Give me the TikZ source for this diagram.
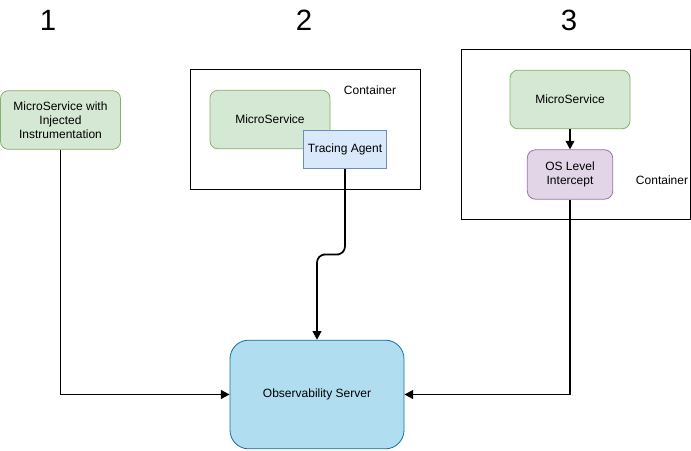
\documentclass[tikz,border=0pt]{standalone}
\usepackage{fontspec}
\setmainfont{Liberation Sans}
\usetikzlibrary{arrows.meta,positioning}

\definecolor{msfill}{HTML}{D5E8D4}
\definecolor{msline}{HTML}{82B366}
\definecolor{agfill}{HTML}{DAE8FC}
\definecolor{agline}{HTML}{6C8EBF}
\definecolor{osfill}{HTML}{E1D5E7}
\definecolor{osline}{HTML}{9673A6}
\definecolor{srvfill}{HTML}{B1DDF0}
\definecolor{srvline}{HTML}{10739E}

\tikzset{
    service/.style={draw=msline, fill=msfill, rounded corners=6, line width=0.6pt,
        minimum width=90pt, minimum height=44pt, align=center, font=\fontsize{9}{10.5}\selectfont},
    agent/.style={draw=agline, fill=agfill, line width=0.6pt,
        minimum width=60pt, minimum height=29pt, align=center, font=\fontsize{9}{10.5}\selectfont},
    intercept/.style={draw=osline, fill=osfill, rounded corners=6, line width=0.6pt,
        minimum width=64pt, minimum height=37pt, align=center, font=\fontsize{9}{10.5}\selectfont},
    container/.style={draw, line width=0.6pt},
    caption/.style={font=\fontsize{9}{10.5}\selectfont},
    number/.style={font=\fontsize{22}{26}\selectfont},
    flow/.style={line width=1.3pt, -{Triangle[length=6.5pt,width=6.5pt]}}
}

\begin{document}
\begin{tikzpicture}[x=0.75pt,y=-0.75pt]
    \useasboundingbox (0,0) rectangle (691,450);

    % column numbers
    \node[number] (n1) at (48,20) {1};
    \node[number] (n2) at (304,20) {2};
    \node[number] (n3) at (569,20) {3};

    % containers
    \draw[container] (190,69) rectangle (420,189);
    \node[caption] (c2) at (370,90) {Container};
    \draw[container] (461,49) rectangle (690,219);
    \node[caption] (c3) at (662,180) {Container};

    % 1: injected instrumentation
    \node[service] (ms1) at (60.5,120) {MicroService with\\Injected\\Instrumentation};

    % 2: tracing agent beside the service
    \node[service] (ms2) at (270,119.5) {MicroService};
    \node[agent] (agent) at (345,149.5) {Tracing Agent};

    % 3: OS level intercept
    \node[service] (ms3) at (570,99.5) {MicroService};
    \node[intercept] (os) at (570,174.5) {OS Level\\Intercept};

    \node[draw=srvline, fill=srvfill, rounded corners=14, line width=0.6pt,
        minimum width=130.5pt, minimum height=81.5pt, caption] (srv) at (317,394.5) {Observability Server};

    % connectors
    \draw[flow] (ms3) -- (os);
    \draw[flow] (ms1.south) |- (srv.west);
    \draw[flow] (os.south) |- (srv.east);
    \draw[flow, rounded corners=6] (agent.south) |- (331,254.5) -| (srv.north);
\end{tikzpicture}
\end{document}
